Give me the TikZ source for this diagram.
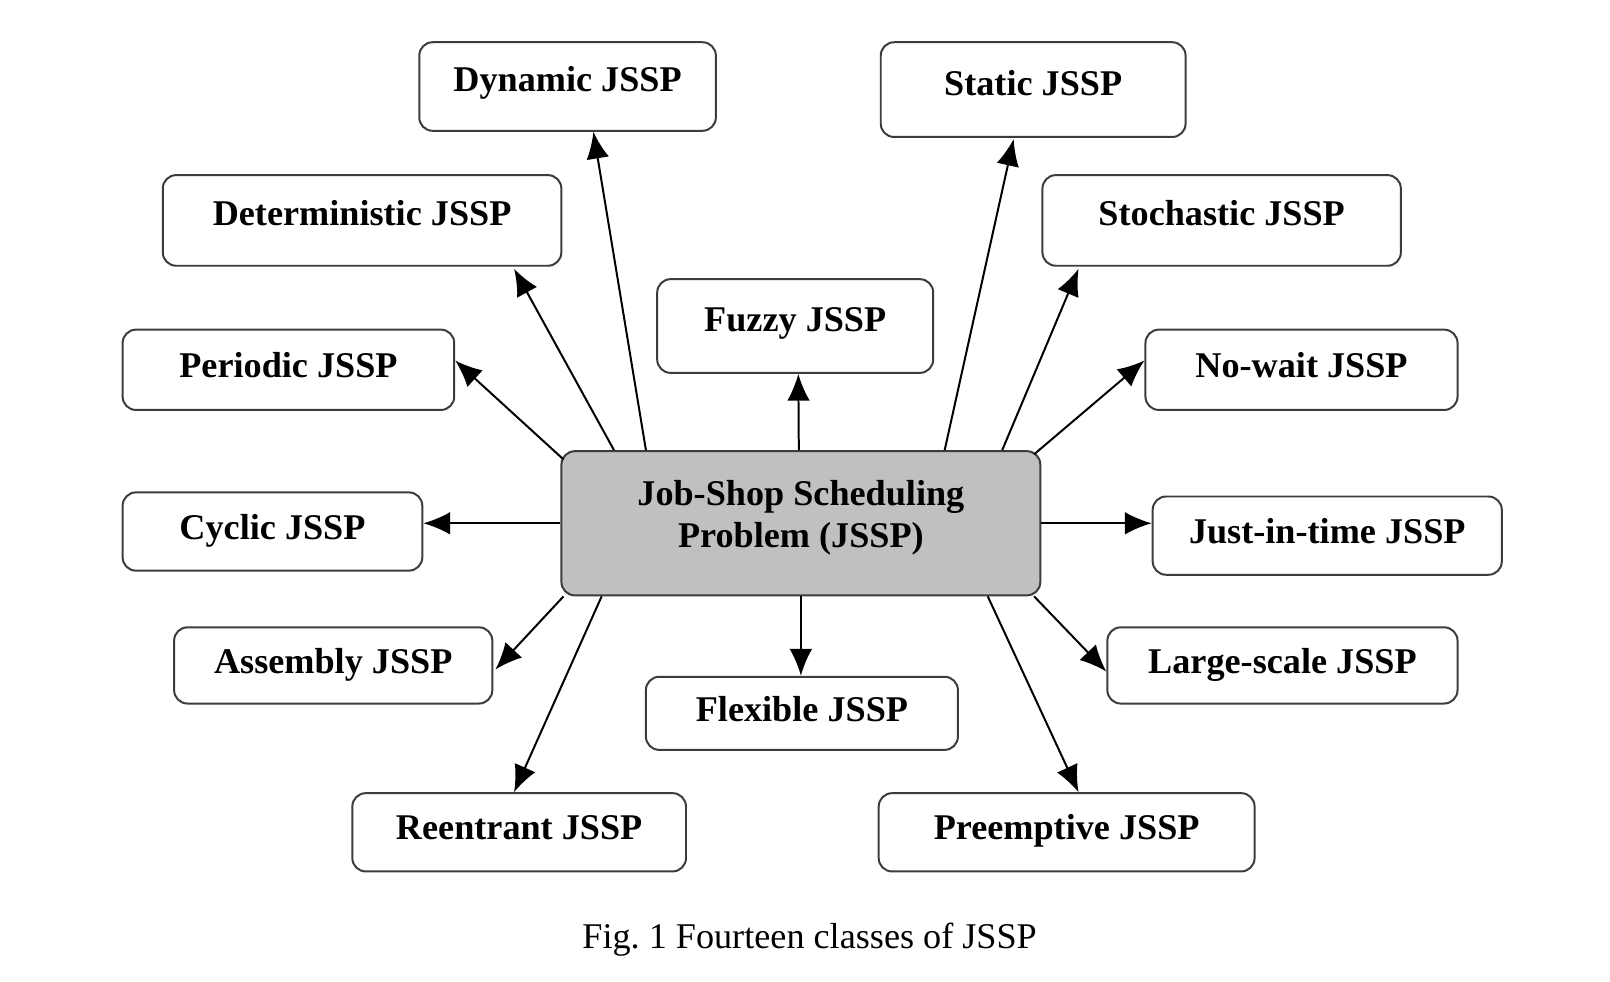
\documentclass[tikz,border=0pt]{standalone}
\usepackage{fontspec}
\setmainfont{Liberation Serif}
\usetikzlibrary{arrows.meta,calc}
\definecolor{jobgray}{RGB}{192,192,192}
\definecolor{boxline}{RGB}{60,60,60}
\tikzset{
  classbox/.style={draw=boxline,line width=1.1pt,rounded corners=0.26cm,inner sep=0pt,
    font=\fontsize{20}{23}\selectfont\bfseries,align=center,text height=1.05em,text depth=0.2em},
  upper/.style={text depth=0.45em},
  arr/.style={-{Latex[length=0.52cm,width=0.44cm]},line width=1.1pt}
}
\begin{document}
\begin{tikzpicture}[x=0.02cm,y=-0.02cm]
  \useasboundingbox (0,0) rectangle (1563,953);

    \node[draw=boxline,line width=1.1pt,rounded corners=0.26cm,fill=jobgray,minimum width=9.3cm,minimum height=2.8cm,inner sep=0pt,
      font=\fontsize{20}{23}\selectfont\bfseries,align=center] (job) at (777.5,508) {Job-Shop Scheduling\\Problem (JSSP)\\[-13pt]};

    \node[classbox,upper,minimum width=5.76cm,minimum height=1.72cm] (dyn) at (551,84) {Dynamic JSSP};
    \node[classbox,upper,minimum width=5.92cm,minimum height=1.84cm] (sta) at (1003,87) {Static JSSP};
    \node[classbox,upper,minimum width=7.74cm,minimum height=1.76cm] (det) at (351.5,214) {Deterministic JSSP};
    \node[classbox,upper,minimum width=6.96cm,minimum height=1.76cm] (sto) at (1186,214) {Stochastic JSSP};
    \node[classbox,upper,minimum width=5.36cm,minimum height=1.82cm] (fuz) at (772,316.5) {Fuzzy JSSP};
    \node[classbox,minimum width=6.44cm,minimum height=1.56cm] (per) at (280,359) {Periodic JSSP};
    \node[classbox,minimum width=6.06cm,minimum height=1.56cm] (now) at (1263.5,359) {No-wait JSSP};

    \node[classbox,minimum width=5.82cm,minimum height=1.52cm] (cyc) at (264.5,516) {Cyclic JSSP};
    \node[classbox,minimum width=6.78cm,minimum height=1.52cm] (jit) at (1288.5,520) {Just-in-time JSSP};

    \node[classbox,minimum width=6.18cm,minimum height=1.48cm] (asm) at (323.5,646) {Assembly JSSP};
    \node[classbox,minimum width=6.8cm,minimum height=1.48cm] (lar) at (1245,646) {Large-scale JSSP};
    \node[classbox,minimum width=6.06cm,minimum height=1.42cm] (fle) at (778.5,692.5) {Flexible JSSP};
    \node[classbox,minimum width=6.48cm,minimum height=1.52cm] (ree) at (504,808) {Reentrant JSSP};
    \node[classbox,minimum width=7.3cm,minimum height=1.52cm] (pre) at (1035.5,808) {Preemptive JSSP};

    % arrows leave the border of the central box
    \draw[arr] ($(job.north west)+(83,0)$) to ($(dyn.south west)+(170,0)$);
    \draw[arr] ($(job.north west)+(52,0)$) to ($(det.south west)+(342,2)$);
    \draw[arr] ($(job.north west)+(3,9)$) to ($(per.east)+(0,-9)$);
    \draw[arr] ($(job.north)+(-2,0)$) to ($(fuz.south)+(3,0)$);
    \draw[arr] ($(job.north west)+(373,0)$) to ($(sta.south west)+(130,1)$);
    \draw[arr] ($(job.north east)+(-38,0)$) to ($(sto.south west)+(36,2)$);
    \draw[arr] ($(job.north east)+(-7,4)$) to ($(now.west)+(0,-9)$);

    \draw[arr] (job.west) to (job.west -| cyc.east);
    \draw[arr] (job.east) to (job.east -| jit.west);

    \draw[arr] ($(job.south west)+(3,0)$) to ($(asm.east)+(2,4)$);
    \draw[arr] ($(job.south east)+(-7,0)$) to ($(lar.west)+(0,6)$);
    \draw[arr] (job.south) to (job.south |- fle.north);
    \draw[arr] ($(job.south west)+(40,0)$) to ($(ree.north west)+(158,0)$);
    \draw[arr] ($(job.south east)+(-52,0)$) to ($(pre.north west)+(195,0)$);

    \node[font=\fontsize{20}{23}\selectfont] (cap) at (786,912) {Fig.~1 Fourteen classes of JSSP};

\end{tikzpicture}
\end{document}
